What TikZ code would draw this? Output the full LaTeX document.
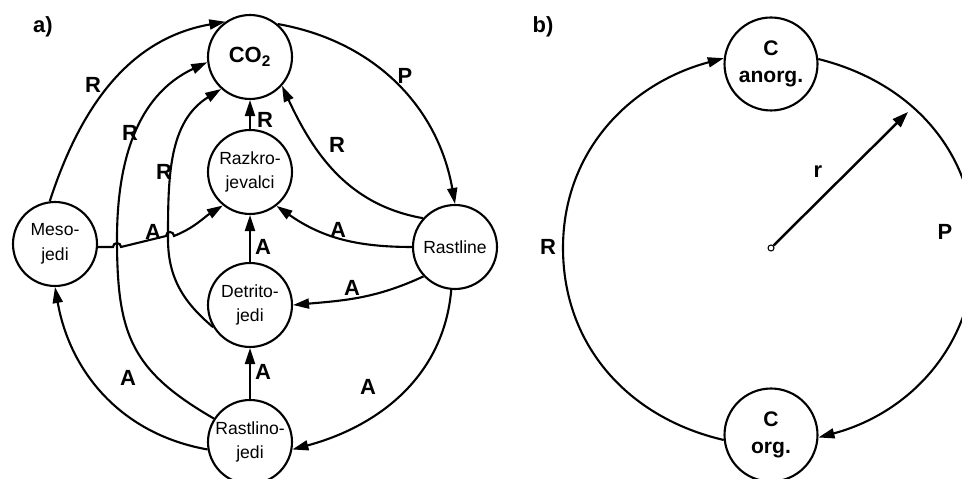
\documentclass[tikz,border=0pt]{standalone}
\usepackage{fontspec}
\setmainfont{Liberation Sans}
\usetikzlibrary{arrows.meta}

\begin{document}
\begin{tikzpicture}[x=0.02cm, y=0.02cm, line width=1.2pt,
    krog/.style={circle, draw, minimum size=1.68cm, inner sep=0pt, align=center,
                 font=\fontsize{10}{14}\selectfont},
    kroga/.style={circle, draw, minimum size=1.86cm, inner sep=0pt, align=center,
                  font=\fontsize{12}{15}\selectfont\bfseries},
    tok/.style={-{Triangle[length=3.2mm,width=2mm]}},
    oznaka/.style={font=\fontsize{12.5}{14}\selectfont\bfseries, inner sep=0pt}]
  \useasboundingbox (0,0) rectangle (962,479);

  % a)
  \node[oznaka] (lta) at (43,452) {a)};
  \node[krog, font=\fontsize{12.5}{14}\selectfont\bfseries] (co2) at (250,422) {CO\textsubscript{2}};
  \node[krog] (razk) at (250,307) {Razkro-\\jevalci};
  \node[krog] (detr) at (250,174) {Detrito-\\jedi};
  \node[krog] (rastj) at (250,37) {Rastlino-\\jedi};
  \node[krog] (meso) at (55,235) {Meso-\\jedi};
  \node[krog] (rastl) at (455,232) {Rastline};
  \coordinate (c5) at (117,240);
  \coordinate (c6) at (168,240);
  \coordinate (s1) at (113,232);
  \coordinate (s2) at (166,243);

  \draw[tok] (meso.97) to[out=72,in=190] (co2.125);
  \draw[tok] (co2.50) to[out=-10,in=100] (rastl.north);
  \draw[tok] (rastj.190) to[out=170,in=-80] (meso.south);
  \draw[tok] (rastl.265) to[out=265,in=15] (rastj.-10);
  \draw[tok] (rastj.147) to[out=150,in=270,looseness=1.2] (c5) to[out=90,in=205] (co2.187);
  \draw[tok] (detr.211) to[out=140,in=270] (c6) to[out=90,in=212] (co2.228);
  \draw[tok] (razk) -- (co2);
  \draw[tok] (rastl.138) to[out=170,in=-65] (co2.-42);
  \draw[tok] (meso.-4) -- (s1) arc[start angle=180,end angle=0,radius=4]
    -- (s2) arc[start angle=180,end angle=0,radius=4] to[out=22,in=212] (razk.231);
  \draw[tok] (rastl.west) to[out=180,in=-35] (razk.-52);
  \draw[tok] (rastl.223) to[out=205,in=5] (detr.east);
  \draw[tok] (detr) -- (razk);
  \draw[tok] (rastj) -- (detr);

  \node[oznaka] (r1) at (93,394) {R};
  \node[oznaka] (r2) at (130,346) {R};
  \node[oznaka] (r3) at (164,307) {R};
  \node[oznaka] (r4) at (265,359) {R};
  \node[oznaka] (r5) at (337,334) {R};
  \node[oznaka] (p1) at (405,403) {P};
  \node[oznaka] (a1) at (153,247) {A};
  \node[oznaka] (a2) at (338,249) {A};
  \node[oznaka] (a3) at (352,191) {A};
  \node[oznaka] (a4) at (263,232) {A};
  \node[oznaka] (a5) at (263,107) {A};
  \node[oznaka] (a6) at (128,101) {A};
  \node[oznaka] (a7) at (368,92) {A};

  % b)
  \node[oznaka] (ltb) at (543,452) {b)};
  \node[kroga] (canorg) at (771,415) {C\\anorg.};
  \node[kroga] (corg) at (771,44) {C\\org.};
  \coordinate (levo) at (563,231);
  \coordinate (desno) at (975,231);
  \node[circle, draw, line width=0.6pt, fill=white, inner sep=0pt, minimum size=1.2mm] (ctr) at (771,231) {};
  \coordinate (rkonec) at (908,367);

  \draw[tok] (corg.186) to[out=167,in=270] (levo) to[out=90,in=195] (canorg.173);
  \draw[tok] (canorg.6) to[out=-14,in=90] (desno) to[out=270,in=15] (corg.-3);
  \draw[line width=1.4pt, -{Triangle[length=3.2mm,width=2.2mm]}] (ctr) -- (rkonec);

  \node[oznaka] (rb) at (548,232) {R};
  \node[oznaka] (pb) at (945,247) {P};
  \node[oznaka] (rr) at (818,307) {r};
\end{tikzpicture}
\end{document}
